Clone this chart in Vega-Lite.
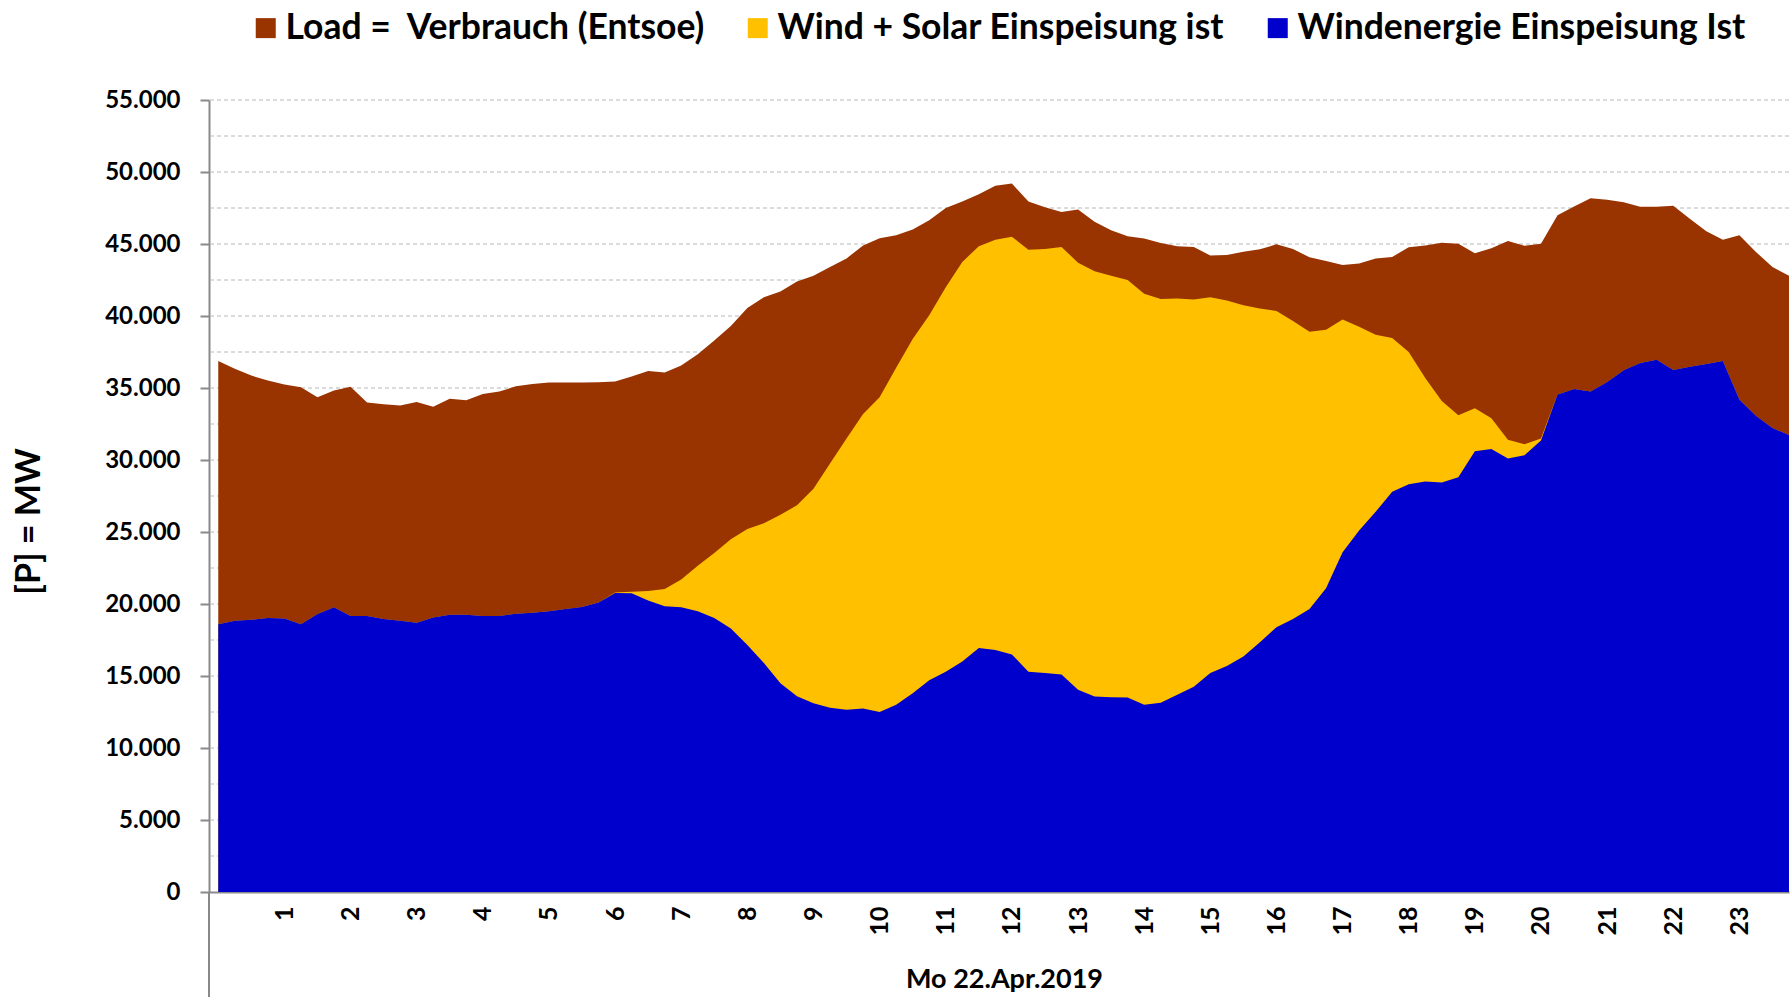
{
  "$schema": "https://vega.github.io/schema/vega-lite/v6.json",
  "width": 1580,
  "height": 792,
  "autosize": {"type": "none"},
  "padding": {"left": 209, "top": 100, "right": 2, "bottom": 105},
  "background": "white",
  "config": {"view": {"stroke": null}, "font": "Lato"},
  "datasets": {
    "grid": [
      {"g": 2500}, {"g": 5000}, {"g": 7500}, {"g": 10000}, {"g": 12500}, {"g": 15000}, {"g": 17500}, {"g": 20000},
      {"g": 22500}, {"g": 25000}, {"g": 27500}, {"g": 30000}, {"g": 32500}, {"g": 35000}, {"g": 37500}, {"g": 40000},
      {"g": 42500}, {"g": 45000}, {"g": 47500}, {"g": 50000}, {"g": 52500}, {"g": 55000}
    ]
  },
  "data": {"values": [
    {"h": 0, "load": 36870, "ws": 18600, "wind": 18600},
    {"h": 0.25, "load": 36340, "ws": 18830, "wind": 18830},
    {"h": 0.5, "load": 35860, "ws": 18900, "wind": 18900},
    {"h": 0.75, "load": 35525, "ws": 19030, "wind": 19030},
    {"h": 1, "load": 35250, "ws": 19000, "wind": 19000},
    {"h": 1.25, "load": 35050, "ws": 18600, "wind": 18600},
    {"h": 1.5, "load": 34350, "ws": 19300, "wind": 19300},
    {"h": 1.75, "load": 34830, "ws": 19780, "wind": 19780},
    {"h": 2, "load": 35090, "ws": 19160, "wind": 19160},
    {"h": 2.25, "load": 34000, "ws": 19160, "wind": 19160},
    {"h": 2.5, "load": 33870, "ws": 18950, "wind": 18950},
    {"h": 2.75, "load": 33780, "ws": 18830, "wind": 18830},
    {"h": 3, "load": 34030, "ws": 18700, "wind": 18700},
    {"h": 3.25, "load": 33700, "ws": 19060, "wind": 19060},
    {"h": 3.5, "load": 34250, "ws": 19260, "wind": 19260},
    {"h": 3.75, "load": 34150, "ws": 19260, "wind": 19260},
    {"h": 4, "load": 34580, "ws": 19160, "wind": 19160},
    {"h": 4.25, "load": 34750, "ws": 19160, "wind": 19160},
    {"h": 4.5, "load": 35120, "ws": 19325, "wind": 19325},
    {"h": 4.75, "load": 35280, "ws": 19400, "wind": 19400},
    {"h": 5, "load": 35390, "ws": 19490, "wind": 19490},
    {"h": 5.25, "load": 35380, "ws": 19650, "wind": 19650},
    {"h": 5.5, "load": 35390, "ws": 19800, "wind": 19800},
    {"h": 5.75, "load": 35400, "ws": 20100, "wind": 20100},
    {"h": 6, "load": 35450, "ws": 20800, "wind": 20770},
    {"h": 6.25, "load": 35800, "ws": 20850, "wind": 20750},
    {"h": 6.5, "load": 36180, "ws": 20900, "wind": 20250},
    {"h": 6.75, "load": 36080, "ws": 21050, "wind": 19850},
    {"h": 7, "load": 36560, "ws": 21700, "wind": 19780},
    {"h": 7.25, "load": 37350, "ws": 22650, "wind": 19500},
    {"h": 7.5, "load": 38300, "ws": 23550, "wind": 19020},
    {"h": 7.75, "load": 39300, "ws": 24500, "wind": 18300},
    {"h": 8, "load": 40550, "ws": 25200, "wind": 17150},
    {"h": 8.25, "load": 41300, "ws": 25600, "wind": 15900},
    {"h": 8.5, "load": 41700, "ws": 26200, "wind": 14500},
    {"h": 8.75, "load": 42400, "ws": 26850, "wind": 13600},
    {"h": 9, "load": 42800, "ws": 28000, "wind": 13100},
    {"h": 9.25, "load": 43400, "ws": 29750, "wind": 12800},
    {"h": 9.5, "load": 44000, "ws": 31500, "wind": 12650},
    {"h": 9.75, "load": 44900, "ws": 33200, "wind": 12750},
    {"h": 10, "load": 45400, "ws": 34350, "wind": 12500},
    {"h": 10.25, "load": 45600, "ws": 36400, "wind": 13000},
    {"h": 10.5, "load": 46000, "ws": 38400, "wind": 13800},
    {"h": 10.75, "load": 46650, "ws": 40050, "wind": 14700},
    {"h": 11, "load": 47500, "ws": 42000, "wind": 15300},
    {"h": 11.25, "load": 47950, "ws": 43750, "wind": 16000},
    {"h": 11.5, "load": 48450, "ws": 44850, "wind": 16950},
    {"h": 11.75, "load": 49050, "ws": 45300, "wind": 16800},
    {"h": 12, "load": 49200, "ws": 45500, "wind": 16500},
    {"h": 12.25, "load": 47950, "ws": 44600, "wind": 15300},
    {"h": 12.5, "load": 47550, "ws": 44650, "wind": 15200},
    {"h": 12.75, "load": 47230, "ws": 44800, "wind": 15100},
    {"h": 13, "load": 47400, "ws": 43700, "wind": 14050},
    {"h": 13.25, "load": 46550, "ws": 43100, "wind": 13570},
    {"h": 13.5, "load": 45950, "ws": 42800, "wind": 13530},
    {"h": 13.75, "load": 45530, "ws": 42500, "wind": 13500},
    {"h": 14, "load": 45380, "ws": 41550, "wind": 13000},
    {"h": 14.25, "load": 45070, "ws": 41180, "wind": 13150},
    {"h": 14.5, "load": 44850, "ws": 41210, "wind": 13700},
    {"h": 14.75, "load": 44790, "ws": 41140, "wind": 14250},
    {"h": 15, "load": 44200, "ws": 41310, "wind": 15200},
    {"h": 15.25, "load": 44230, "ws": 41080, "wind": 15700},
    {"h": 15.5, "load": 44470, "ws": 40750, "wind": 16350},
    {"h": 15.75, "load": 44630, "ws": 40520, "wind": 17350},
    {"h": 16, "load": 44980, "ws": 40350, "wind": 18380},
    {"h": 16.25, "load": 44650, "ws": 39650, "wind": 18950},
    {"h": 16.5, "load": 44080, "ws": 38900, "wind": 19650},
    {"h": 16.75, "load": 43820, "ws": 39050, "wind": 21100},
    {"h": 17, "load": 43550, "ws": 39750, "wind": 23600},
    {"h": 17.25, "load": 43640, "ws": 39250, "wind": 25100},
    {"h": 17.5, "load": 44000, "ws": 38700, "wind": 26400},
    {"h": 17.75, "load": 44100, "ws": 38480, "wind": 27800},
    {"h": 18, "load": 44780, "ws": 37500, "wind": 28320},
    {"h": 18.25, "load": 44900, "ws": 35700, "wind": 28500},
    {"h": 18.5, "load": 45080, "ws": 34100, "wind": 28430},
    {"h": 18.75, "load": 45020, "ws": 33100, "wind": 28800},
    {"h": 19, "load": 44350, "ws": 33600, "wind": 30600},
    {"h": 19.25, "load": 44700, "ws": 32900, "wind": 30760},
    {"h": 19.5, "load": 45200, "ws": 31400, "wind": 30100},
    {"h": 19.75, "load": 44870, "ws": 31100, "wind": 30330},
    {"h": 20, "load": 45010, "ws": 31500, "wind": 31350},
    {"h": 20.25, "load": 47000, "ws": 34550, "wind": 34550},
    {"h": 20.5, "load": 47600, "ws": 34930, "wind": 34930},
    {"h": 20.75, "load": 48170, "ws": 34750, "wind": 34750},
    {"h": 21, "load": 48080, "ws": 35420, "wind": 35420},
    {"h": 21.25, "load": 47900, "ws": 36240, "wind": 36240},
    {"h": 21.5, "load": 47580, "ws": 36740, "wind": 36740},
    {"h": 21.75, "load": 47590, "ws": 36970, "wind": 36970},
    {"h": 22, "load": 47650, "ws": 36250, "wind": 36250},
    {"h": 22.25, "load": 46760, "ws": 36480, "wind": 36480},
    {"h": 22.5, "load": 45880, "ws": 36670, "wind": 36670},
    {"h": 22.75, "load": 45290, "ws": 36870, "wind": 36870},
    {"h": 23, "load": 45600, "ws": 34200, "wind": 34200},
    {"h": 23.25, "load": 44450, "ws": 33070, "wind": 33070},
    {"h": 23.5, "load": 43400, "ws": 32220, "wind": 32220},
    {"h": 23.75, "load": 42800, "ws": 31740, "wind": 31740}
  ]},
  "layer": [
    {
      "data": {"name": "grid"},
      "mark": {"type": "rule", "color": "#b8b8b8", "strokeDash": [4, 3], "strokeWidth": 1},
      "encoding": {
        "y": {"field": "g", "type": "quantitative", "title": "[P] = MW"}
      }
    },
    {
      "mark": {"type": "area"},
      "encoding": {
        "x": {"field": "h", "type": "quantitative", "title": "Mo 22.Apr.2019",
          "scale": {"domain": [-0.14, 23.75], "nice": false, "zero": false},
          "axis": {
            "values": [1,2,3,4,5,6,7,8,9,10,11,12,13,14,15,16,17,18,19,20,21,22,23],
            "format": "d",
            "labelAngle": 270, "labelFontSize": 25, "labelFontWeight": "bold", "labelColor": "#000000",
            "labelPadding": 14, "ticks": false, "grid": false, "labelFlush": false, "labelOverlap": false,
            "domainColor": "#898989", "domainWidth": 2,
            "titleFontSize": 27, "titleFontWeight": "bold", "titleColor": "#000000",
            "titleBaseline": "middle", "titleY": 87, "titleX": 795
          }
        },
        "y": {"field": "load", "type": "quantitative", "title": "[P] = MW",
          "scale": {"domain": [0, 55000], "nice": false},
          "axis": {
            "values": [0,5000,10000,15000,20000,25000,30000,35000,40000,45000,50000,55000],
            "labelExpr": "replace(format(datum.value, ',d'), ',', '.')",
            "tickSize": 9, "tickWidth": 2, "tickColor": "#898989",
            "domainColor": "#898989", "domainWidth": 2,
            "grid": false,
            "labelFontSize": 24, "labelFontWeight": "bold", "labelColor": "#000000", "labelPadding": 20,
            "labelOverlap": false,
            "titleFontSize": 34, "titleFontWeight": "bold", "titleColor": "#000000",
            "titleX": -180, "titleY": 421, "titleAngle": 270, "titleAlign": "center", "titleBaseline": "middle"
          }
        },
        "color": {"datum": "Load = \u00a0Verbrauch (Entsoe)",
          "scale": {"domain": ["Load = \u00a0Verbrauch (Entsoe)", "Wind + Solar Einspeisung ist", "Windenergie Einspeisung Ist"],
                    "range": ["#993300", "#FFC000", "#0000CC"]},
          "legend": {"orient": "none", "legendX": 39, "legendY": -90, "direction": "horizontal", "title": null,
            "symbolType": "square", "symbolSize": 400, "symbolStrokeWidth": 0, "symbolOpacity": 1,
            "labelFontSize": 35.5, "labelFontWeight": "bold", "labelColor": "#000000",
            "labelOffset": 2, "columnPadding": 35, "labelLimit": 0}
        }
      }
    },
    {
      "mark": {"type": "area"},
      "encoding": {
        "x": {"field": "h", "type": "quantitative", "title": "Mo 22.Apr.2019"},
        "y": {"field": "ws", "type": "quantitative", "title": "[P] = MW"},
        "color": {"datum": "Wind + Solar Einspeisung ist"}
      }
    },
    {
      "mark": {"type": "area"},
      "encoding": {
        "x": {"field": "h", "type": "quantitative", "title": "Mo 22.Apr.2019"},
        "y": {"field": "wind", "type": "quantitative", "title": "[P] = MW"},
        "color": {"datum": "Windenergie Einspeisung Ist"}
      }
    },
    {
      "mark": {"type": "rule", "color": "#898989", "strokeWidth": 2},
      "encoding": {
        "x": {"datum": -0.14, "type": "quantitative"},
        "y": {"datum": -7300, "type": "quantitative"},
        "y2": {"datum": 0}
      }
    }
  ]
}
